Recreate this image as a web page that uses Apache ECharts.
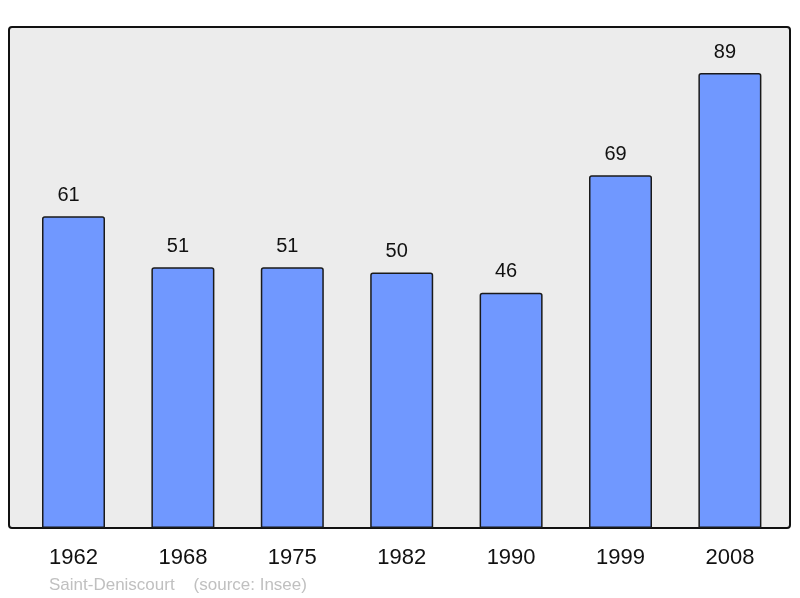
<!DOCTYPE html>
<html>
<head>
<meta charset="utf-8">
<script src="https://cdn.jsdelivr.net/npm/echarts@6/dist/echarts.min.js"></script>
<style>html,body{margin:0;padding:0;background:#fff;}#c{width:800px;height:598px;}</style>
</head>
<body>
<div id="c"></div>
<script>
var years = ['1962', '1968', '1975', '1982', '1990', '1999', '2008'];
var population = [61, 51, 51, 50, 46, 69, 89];
var footerText = 'Saint-Deniscourt    (source: Insee)';

var chart = echarts.init(document.getElementById('c'), null, {renderer: 'canvas'});
chart.setOption({
  animation: false,
  backgroundColor: '#ffffff',
  textStyle: {fontFamily: 'Liberation Sans, Arial, sans-serif'},
  grid: {left: 18.8, right: 15.4, top: 27, bottom: 70, containLabel: false},
  graphic: [
    {type: 'rect', z: -10, shape: {x: 9, y: 27, width: 781, height: 501, r: 3},
     style: {fill: '#ececec', stroke: '#111111', lineWidth: 2}},
    {type: 'text', left: 49, top: 577, z: 10,
     style: {text: footerText, fill: '#c0c0c0', font: '17px "Liberation Sans", Arial, sans-serif'}}
  ],
  xAxis: {
    type: 'category', data: years,
    axisLine: {show: false}, axisTick: {show: false},
    axisLabel: {color: '#111', fontSize: 22, margin: 19, fontFamily: 'Liberation Sans'}
  },
  yAxis: {type: 'value', min: 0, max: 98, show: false, splitLine: {show: false}},
  series: [{
    type: 'bar', data: population, barWidth: 63,
    itemStyle: {color: '#7098ff', borderColor: '#1a1a1a', borderWidth: 1.5, borderRadius: [2, 2, 0, 0]},
    label: {show: true, position: 'top', distance: 11, offset: [-5, 0], color: '#111', fontSize: 20, fontFamily: 'Liberation Sans'}
  }]
});
</script>
</body>
</html>
